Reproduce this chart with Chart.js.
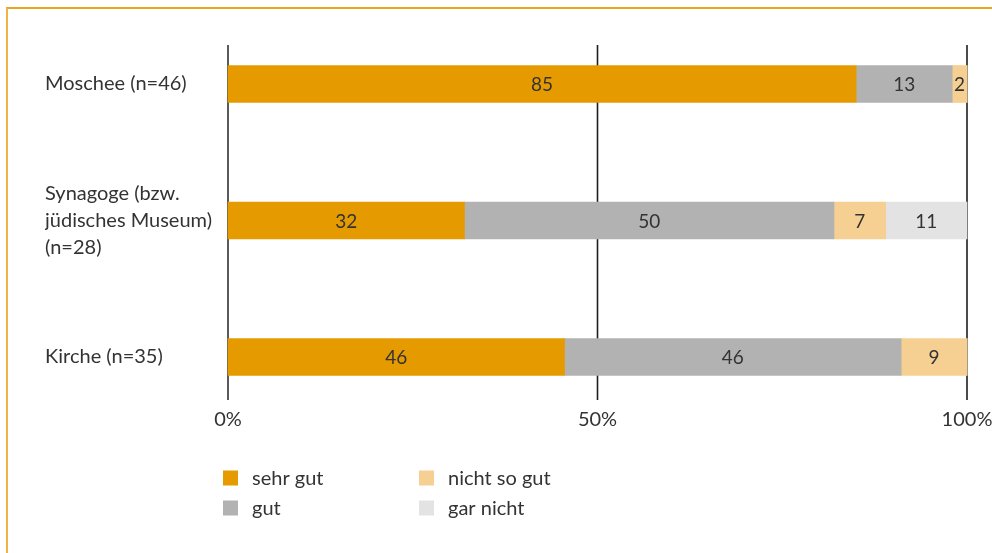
<!DOCTYPE html>
<html>
<head>
<meta charset="utf-8">
<script src="https://cdn.jsdelivr.net/npm/chart.js@4/dist/chart.umd.min.js"></script>
<style>
  body { margin: 0; background: #fff; }
  #wrap { position: relative; width: 992px; height: 553px; }
  #frame {
    position: absolute; left: 6px; top: 7px; right: 0; bottom: 0;
    border-top: 2px solid #e9a520; border-left: 2px solid #efb445;
    pointer-events: none;
  }
</style>
</head>
<body>
<div id="wrap">
  <canvas id="chart" width="992" height="553"></canvas>
  <div id="frame"></div>
</div>
<script>
const categories = [
  'Moschee (n=46)',
  ['Synagoge (bzw.', 'jüdisches Museum)', '(n=28)'],
  'Kirche (n=35)'
];
const seriesNames = ['sehr gut', 'gut', 'nicht so gut', 'gar nicht'];
const sehrGut = [85, 32, 46];
const gut = [13, 50, 46];
const nichtSoGut = [2, 7, 9];
const garNicht = [0, 11, 0];
const tickLabels = ['0%', '50%', '100%'];
const colors = ['#e59a00', '#b2b2b2', '#f6d093', '#e3e3e3'];

const series = [sehrGut, gut, nichtSoGut, garNicht];
const FONT = 'Lato';
const TEXT = '#333333';

// each row is drawn as share of its own total (rounded values may add up to 101)
const rowTotals = categories.map((c, i) => series.reduce((s, arr) => s + arr[i], 0));

const datasets = series.map((values, k) => ({
  label: seriesNames[k],
  data: values.map((v, i) => v / rowTotals[i] * 100),
  values: values,
  backgroundColor: colors[k],
  borderWidth: 0,
  barThickness: 37,
  clip: false
}));

// vertical reference lines at 0 / 50 / 100 %, a bit longer than the bar block
const refLines = {
  id: 'refLines',
  beforeDatasetsDraw(chart) {
    const { ctx, chartArea, scales } = chart;
    ctx.save();
    [0, 50, 100].forEach((v, i) => {
      const x = scales.x.getPixelForValue(v);
      ctx.strokeStyle = i === 0 ? '#5a5a5a' : '#1e1e1e';
      ctx.lineWidth = i === 0 ? 2 : 1.6;
      ctx.beginPath();
      ctx.moveTo(x, chartArea.top - 39);
      ctx.lineTo(x, chartArea.bottom + 43);
      ctx.stroke();
    });
    ctx.restore();
  }
};

// numbers inside the segments
const barValues = {
  id: 'barValues',
  afterDatasetsDraw(chart) {
    const { ctx } = chart;
    ctx.save();
    ctx.font = '19px ' + FONT;
    ctx.fillStyle = TEXT;
    ctx.textAlign = 'center';
    ctx.textBaseline = 'middle';
    chart.data.datasets.forEach((ds, k) => {
      chart.getDatasetMeta(k).data.forEach((bar, i) => {
        const v = ds.values[i];
        if (!v) return;
        const p = bar.getCenterPoint();
        ctx.fillText(String(v), p.x, p.y + 1);
      });
    });
    ctx.restore();
  }
};

// two-column legend under the axis
const gridLegend = {
  id: 'gridLegend',
  afterDraw(chart) {
    const { ctx, chartArea } = chart;
    ctx.save();
    ctx.font = '20px ' + FONT;
    ctx.textBaseline = 'middle';
    chart.data.datasets.forEach((ds, k) => {
      const col = Math.floor(k / 2);
      const row = k % 2;
      const x = chartArea.left - 5 + col * 196;
      const y = chartArea.bottom + 121 + row * 30;
      ctx.fillStyle = ds.backgroundColor;
      ctx.fillRect(x, y - 7.5, 15, 15);
      ctx.fillStyle = TEXT;
      ctx.fillText(ds.label, x + 29, y + 1);
    });
    ctx.restore();
  }
};

new Chart(document.getElementById('chart'), {
  type: 'bar',
  data: { labels: categories, datasets: datasets },
  options: {
    indexAxis: 'y',
    responsive: false,
    animation: false,
    layout: { padding: { left: 45, right: 25, top: 84, bottom: 0 } },
    plugins: { legend: { display: false }, tooltip: { enabled: false } },
    scales: {
      x: {
        type: 'linear',
        stacked: true,
        min: 0,
        max: 100,
        grid: { display: false },
        border: { display: false },
        ticks: {
          stepSize: 50,
          padding: 43,
          color: TEXT,
          font: { family: FONT, size: 20 },
          callback: v => tickLabels[v / 50]
        },
        afterFit(scale) {
          scale.height = 196;
          scale.paddingLeft = 0;
          scale.paddingRight = 0;
        }
      },
      y: {
        type: 'category',
        stacked: true,
        offset: false,
        grid: { display: false },
        border: { display: false },
        ticks: {
          crossAlign: 'far',
          color: TEXT,
          font: { family: FONT, size: 20, lineHeight: 1.35 }
        },
        afterFit(scale) {
          scale.width = 183;
          scale.paddingTop = 0;
          scale.paddingBottom = 0;
        }
      }
    }
  },
  plugins: [refLines, barValues, gridLegend]
});
</script>
</body>
</html>
